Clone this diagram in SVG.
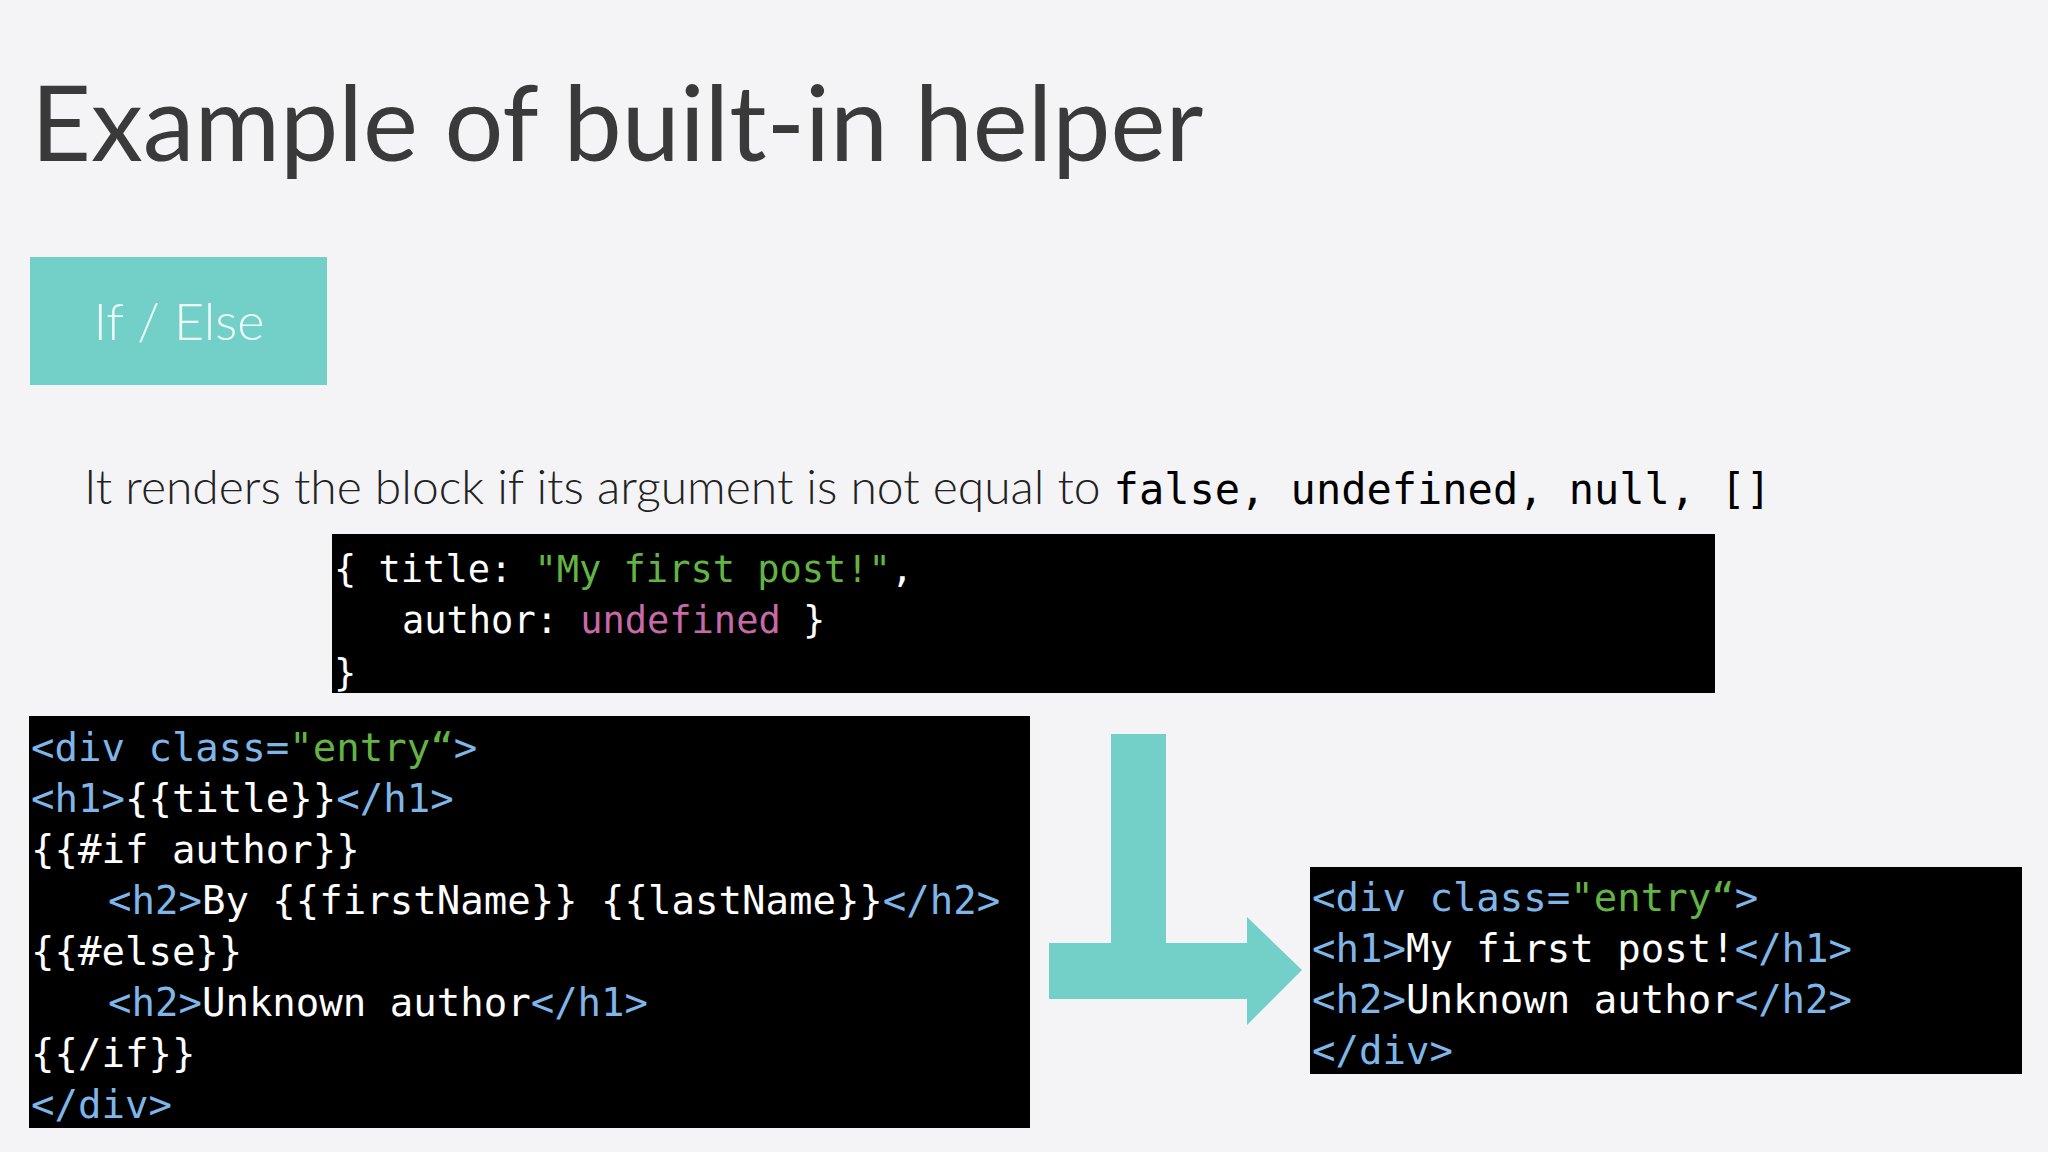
<svg xmlns="http://www.w3.org/2000/svg" width="2048" height="1152" viewBox="0 0 2048 1152">
<style>
.code{font-family:"DejaVu Sans Mono","Liberation Mono",monospace;fill:#ffffff}
.t{fill:#7fb6ea}.s{fill:#63b445}.u{fill:#c86aa8}
.box{fill:#000}
</style>
<rect width="2048" height="1152" fill="#f4f4f6"/>
<text x="31" y="161" font-family="Lato, 'Noto Sans', sans-serif" font-size="104" fill="#3a3a3a">Example of built-in helper</text>
<g id="ifelse">
<rect x="30" y="257" width="297" height="128" fill="#73d0c9"/>
<text x="179" y="340" text-anchor="middle" font-family="Lato, 'Noto Sans', sans-serif" font-size="52" font-weight="300" fill="#eef9f8">If / Else</text>
</g>
<text x="84" y="504" font-family="Lato, 'Noto Sans', sans-serif" font-size="48" font-weight="300" fill="#222">It renders the block if its argument is not equal to <tspan font-family="'DejaVu Sans Mono', monospace" font-size="42" fill="#000">false, undefined, null, []</tspan></text>
<g id="data">
<rect class="box" x="332" y="534" width="1383" height="159"/>
<text class="code" font-size="37" x="334" y="582">{ title: <tspan class="s">"My first post!"</tspan>,</text>
<text class="code" font-size="37" x="402" y="633">author: <tspan class="u">undefined</tspan> }</text>
<text class="code" font-size="37" x="334" y="686">}</text>
</g>
<g id="template">
<rect class="box" x="29" y="716" width="1001" height="412"/>
<g class="code" font-size="39">
<text x="31" y="761"><tspan class="t">&lt;div class=</tspan><tspan class="s">"entry“</tspan><tspan class="t">&gt;</tspan></text>
<text x="31" y="812"><tspan class="t">&lt;h1&gt;</tspan>{{title}}<tspan class="t">&lt;/h1&gt;</tspan></text>
<text x="31" y="863">{{#if author}}</text>
<text x="108" y="914"><tspan class="t">&lt;h2&gt;</tspan>By {{firstName}} {{lastName}}<tspan class="t">&lt;/h2&gt;</tspan></text>
<text x="31" y="965">{{#else}}</text>
<text x="108" y="1016"><tspan class="t">&lt;h2&gt;</tspan>Unknown author<tspan class="t">&lt;/h1&gt;</tspan></text>
<text x="31" y="1067">{{/if}}</text>
<text x="31" y="1118"><tspan class="t">&lt;/div&gt;</tspan></text>
</g>
</g>
<g id="connectors">
<path d="M1111 734 H1166 V943 H1247 V917 L1302 970 L1247 1025 V999 H1049 V943 H1111 Z" fill="#73d0c9"/>
</g>
<g id="result">
<rect class="box" x="1310" y="867" width="712" height="207"/>
<g class="code" font-size="39">
<text x="1312" y="911"><tspan class="t">&lt;div class=</tspan><tspan class="s">"entry“</tspan><tspan class="t">&gt;</tspan></text>
<text x="1312" y="962"><tspan class="t">&lt;h1&gt;</tspan>My first post!<tspan class="t">&lt;/h1&gt;</tspan></text>
<text x="1312" y="1013"><tspan class="t">&lt;h2&gt;</tspan>Unknown author<tspan class="t">&lt;/h2&gt;</tspan></text>
<text x="1312" y="1064"><tspan class="t">&lt;/div&gt;</tspan></text>
</g>
</g>
</svg>
